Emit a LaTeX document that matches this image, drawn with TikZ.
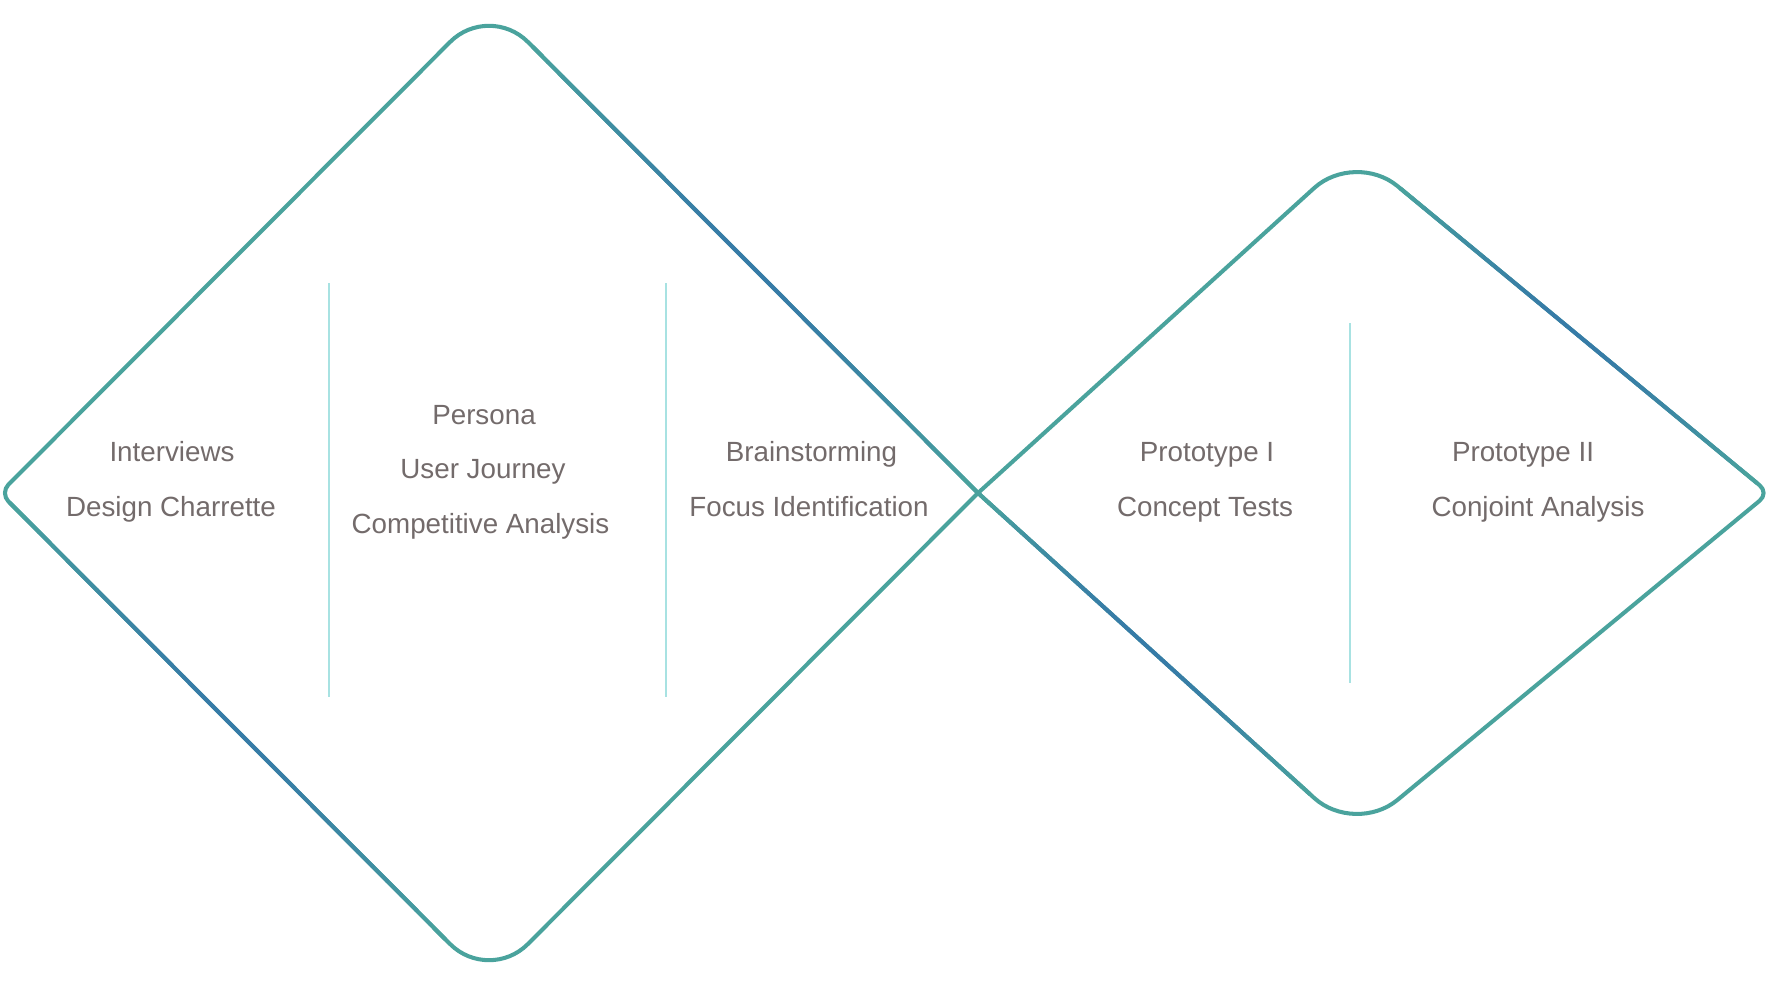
\documentclass[tikz,border=0pt]{standalone}
\usepackage{fontspec}
\setmainfont{Liberation Sans}
\usetikzlibrary{calc}
\definecolor{cTeal}{RGB}{74,163,157}
\definecolor{cBlue}{RGB}{52,118,168}
\definecolor{cRule}{RGB}{168,226,226}
\definecolor{cText}{RGB}{115,107,107}

\begin{document}
\begin{tikzpicture}[
  x=1cm,y=1cm, font=\fontsize{7.9}{9}\selectfont, color=cText,
  rim/.style     ={draw=cTeal, line width=1.15pt, line join=round},
  tint/.style    ={line width=1.15pt, line cap=round},
  divider/.style ={draw=cRule, line width=0.55pt},
  item/.style    ={anchor=base, text=cText, inner sep=0pt},
]

\useasboundingbox (0,0) rectangle (17.77,9.86);
\def\yc{4.93}

% ----- corner points of the two diamonds --------------------------------
\coordinate (aL) at (0,\yc);     \coordinate (aT) at (4.89,9.83);
\coordinate (aR) at (9.78,\yc);  \coordinate (aB) at (4.89,0.03);
\coordinate (bL) at (aR);        \coordinate (bT) at (13.55,8.35);
\coordinate (bR) at (17.69,\yc); \coordinate (bB) at (13.55,1.51);

% ----- outlines: wide rounding top/bottom, tight at the sides -----------
\draw[rim] ($(aL)!.5!(aT)$) [rounded corners=5.5mm] -- (aT) -- ($(aT)!.5!(aR)$)
  [sharp corners] -- (aR) -- ($(aR)!.5!(aB)$)
  [rounded corners=5.5mm] -- (aB) -- ($(aB)!.5!(aL)$)
  [rounded corners=1.2mm] -- (aL) -- cycle;
\draw[rim] ($(bL)!.5!(bT)$) [rounded corners=5.5mm] -- (bT) -- ($(bT)!.5!(bR)$)
  [rounded corners=1.2mm] -- (bR) -- ($(bR)!.5!(bB)$)
  [rounded corners=5.5mm] -- (bB) -- ($(bB)!.5!(bL)$)
  [sharp corners] -- (bL) -- cycle;

% ----- blue tint along the falling edges ---------------------------------
\foreach \p/\q/\ta/\tb in {aT/aR/0.09/1, aB/aL/0.09/0.98,
                           bT/bR/0.11/0.97, bB/bL/0.12/1}{
  \foreach \i in {0,...,29}{
    \pgfmathsetmacro{\sa}{\ta+(\tb-\ta)*\i/30}
    \pgfmathsetmacro{\sb}{\ta+(\tb-\ta)*(\i+1)/30}
    \pgfmathtruncatemacro{\w}{90*sin(180*(\i+0.5)/30)}
    \draw[tint,cBlue!\w!cTeal] ($(\p)!\sa!(\q)$) -- ($(\p)!\sb!(\q)$);
  }}

% ----- dividers ----------------------------------------------------------
\draw[divider] (3.29,7.03)  -- (3.29,2.89);
\draw[divider] (6.66,7.03)  -- (6.66,2.89);
\draw[divider] (13.50,6.63) -- (13.50,3.03);

% ----- labels ------------------------------------------------------------
\node[item] (interviews)  at (1.72,5.25)  {Interviews};
\node[item] (charrette)   at (1.71,4.70)  {Design Charrette};
\node[item] (persona)     at (4.84,5.62)  {Persona};
\node[item] (journey)     at (4.83,5.075) {User Journey};
\node[item] (competitive) at (4.805,4.53) {Competitive Analysis};
\node[item] (brainstorm)  at (8.115,5.25) {Brainstorming};
\node[item] (focus)       at (8.09,4.70)  {Focus Identification};
\node[item] (protoI)      at (12.07,5.25) {Prototype I};
\node[item] (concept)     at (12.05,4.70) {Concept Tests};
\node[item] (protoII)     at (15.23,5.25) {Prototype II};
\node[item] (conjoint)    at (15.38,4.70) {Conjoint Analysis};

\end{tikzpicture}
\end{document}
